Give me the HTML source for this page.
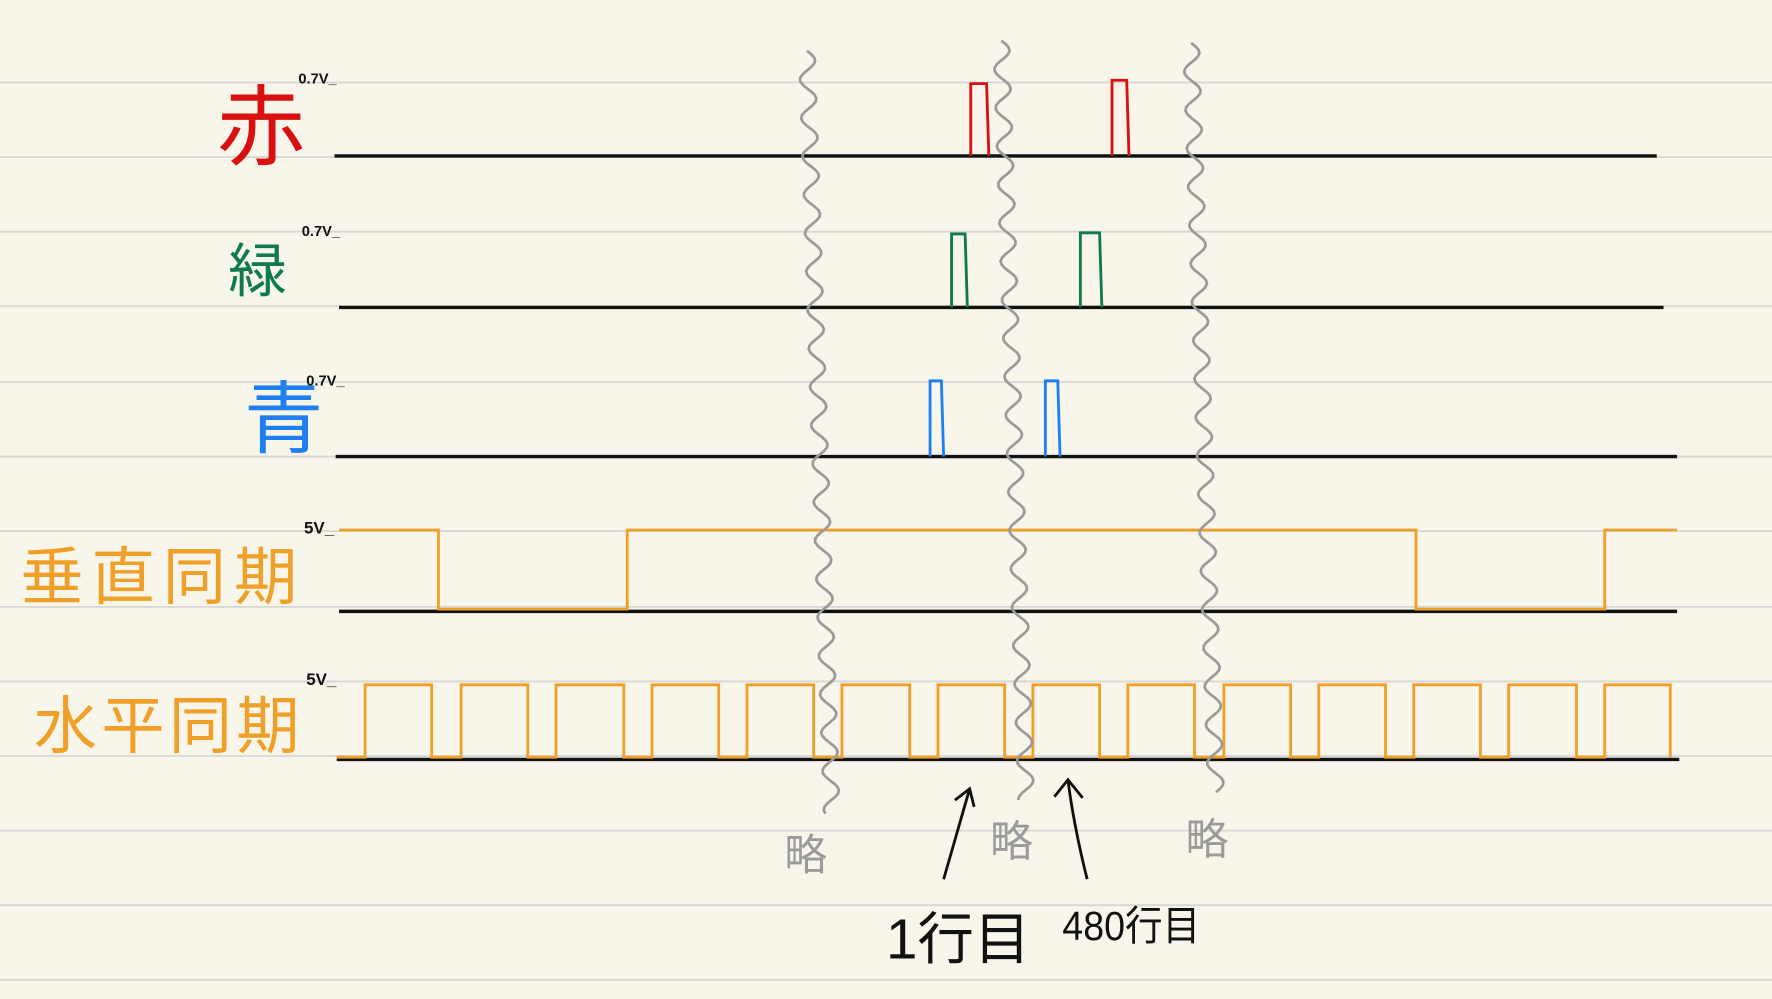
<!DOCTYPE html>
<html><head><meta charset="utf-8"><style>
html,body{margin:0;padding:0;background:#f8f6ea;}
svg{display:block}
text{font-family:"Liberation Sans","Noto Sans CJK JP",sans-serif;}
</style></head>
<body>
<svg id="chart" width="1772" height="999" viewBox="0 0 1568 884" preserveAspectRatio="none" xmlns="http://www.w3.org/2000/svg">
<rect width="1568" height="884" fill="#f8f6ea"/>
<g id="rules"></g>
<g id="sig"></g>
<g id="waves"></g>
<text x="192" y="140" font-size="78" fill="#d81010">赤</text>
<text x="264" y="74" font-size="13" font-weight="bold" fill="#111">0.7V_</text>
<text x="202" y="258" font-size="52" fill="#0f7a4e">緑</text>
<text x="267" y="209" font-size="13" font-weight="bold" fill="#111">0.7V_</text>
<text x="216" y="395" font-size="70" fill="#1e7ff0">青</text>
<text x="271" y="341" font-size="13" font-weight="bold" fill="#111">0.7V_</text>
<text x="18" y="530" font-size="56" fill="#f0a028" textLength="245">垂直同期</text>
<text x="269" y="472" font-size="15" font-weight="bold" fill="#111">5V_</text>
<text x="30" y="662" font-size="56" fill="#f0a028" textLength="235">水平同期</text>
<text x="271" y="606" font-size="15" font-weight="bold" fill="#111">5V_</text>
<text x="694" y="770" font-size="38" fill="#9a9a9a">略</text>
<text x="876" y="758" font-size="38" fill="#9a9a9a">略</text>
<text x="1049" y="756" font-size="38" fill="#9a9a9a">略</text>
<path d="M835 778 L858 698 M845 708 L858 698 L862 714" stroke="#111" stroke-width="2.5" fill="none"/>
<path d="M962 778 Q950 730 945 690 M933 705 L945 690 L958 706" stroke="#111" stroke-width="2.5" fill="none"/>
<text x="784" y="848" font-size="50" fill="#111">1行目</text>
<text x="940" y="832" font-size="36" fill="#111" textLength="122" lengthAdjust="spacingAndGlyphs">480行目</text>
</svg>
<script>
const ruleYs=[73,139,205,271,338,404,470,537,603,669,735,801,867];
const redPulses=[[859,875,74],[984,999,71]];
const greenPulses=[[842,856,207],[956,975,206]];
const bluePulses=[[823,835,337],[925,938,337]];
const vsyncEdges=[300,388,555,1253,1420,1484];
const hsyncRise=[323,408,492,577,661,745,830,914,998,1083,1167,1251,1335,1420];
const hsyncFall=[382,467,552,636,720,805,889,973,1057,1142,1226,1310,1395,1478];
const waveTop=[[714,45,720],[886,36,708],[1054,38,702]];
const NS='http://www.w3.org/2000/svg';
function mk(tag,attrs,parent){const e=document.createElementNS(NS,tag);for(const k in attrs)e.setAttribute(k,attrs[k]);parent.appendChild(e);return e;}
const rules=document.getElementById('rules');
ruleYs.forEach(y=>{
 const l=mk('line',{x1:0,x2:1568,y1:y,y2:y,stroke:'#d6d6d4','stroke-width':1.6},rules);
 
 
});
const sig=document.getElementById('sig');
function base(x1,x2,y){const l=mk('line',{x1:x1,x2:x2,y1:y,y2:y,stroke:'#111','stroke-width':3},sig);
 
 }
function pulses(arr,y,col,name){arr.forEach(p=>{
 const e=mk('path',{d:`M${p[0]} ${y} L${p[0]} ${p[2]} L${p[1]-2} ${p[2]} L${p[1]} ${y}`,stroke:col,'stroke-width':2.5,fill:'none'},sig);
 
 });}
base(296,1466,138);base(300,1472,272);base(297,1484,404);base(300,1484,541);base(298,1486,672);
pulses(redPulses,138,'#d81010','red-pulse');
pulses(greenPulses,272,'#0f7a4e','green-pulse');
pulses(bluePulses,404,'#1e7ff0','blue-pulse');
let d=`M${vsyncEdges[0]} 469`;
for(let i=1;i<vsyncEdges.length;i++){const yPrev=(i%2==1)?469:539;const yNext=(i%2==1)?539:469;
 d+=` L${vsyncEdges[i]} ${yPrev}`; if(i<vsyncEdges.length-1)d+=` L${vsyncEdges[i]} ${yNext}`;}
const v=mk('path',{d:d,stroke:'#f0a028','stroke-width':2.5,fill:'none'},sig);


let h='M298 670';
hsyncRise.forEach((r,i)=>{h+=` L${r} 670 L${r} 606 L${hsyncFall[i]} 606 L${hsyncFall[i]} 670`;});
const hs=mk('path',{d:h,stroke:'#f0a028','stroke-width':2.5,fill:'none'},sig);


const waves=document.getElementById('waves');
waveTop.forEach(w0=>{
 const x0=w0[0],y0=w0[1],y1=w0[2];
 let p='';let y=y0;let s=1;
 while(y<y1){const t=(y-y0)/(y1-y0);const x=x0+t*22;
  p+=(p?' L':'M')+x.toFixed(1)+' '+y.toFixed(1);
  y+=3; }
 // build wiggly path
 p='';y=y0;
 while(y<=y1){const t=(y-y0)/(y1-y0);const x=x0+t*22+7*Math.sin((y-y0)/34*2*Math.PI);
  p+=(p?' L':'M')+x.toFixed(1)+' '+y.toFixed(1);y+=3;}
 const w=mk('path',{d:p,stroke:'#9a9a9a','stroke-width':2.4,fill:'none','stroke-linejoin':'round'},waves);
 
 
});
</script>
</body></html>
